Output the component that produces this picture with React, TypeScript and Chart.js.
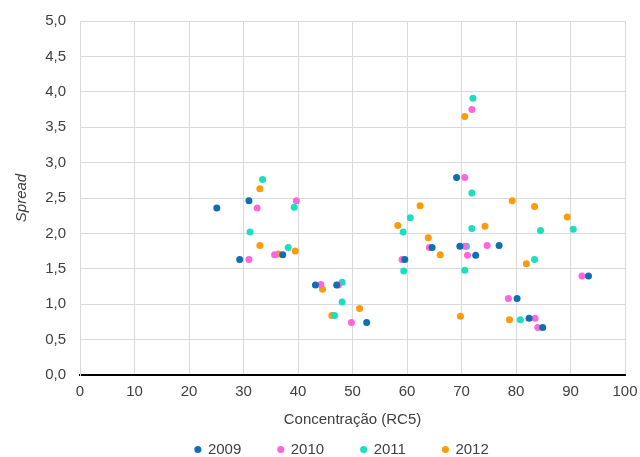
import React, { useEffect, useRef } from "react";
import { Chart, registerables } from "chart.js";

Chart.register(...registerables);

const chartTitle = "Mercado Europeu — Spread";
const xAxisTitle = "Concentração (RC5)";
const yAxisTitle = "Spread";
const seriesNames = ["2009", "2010", "2011", "2012"];
const seriesColors = ["#0F6FB0", "#FF66DD", "#1BDDC0", "#FF9A0A"];

const x2009 = [25.1, 29.3, 31.0, 37.2, 43.2, 47.1, 52.6, 59.6, 64.6, 69.1, 69.7, 72.6, 76.9, 80.2, 82.4, 84.9, 93.3];
const y2009 = [2.36, 1.63, 2.46, 1.70, 1.27, 1.27, 0.74, 1.63, 1.80, 2.79, 1.82, 1.69, 1.83, 1.08, 0.80, 0.67, 1.40];

const x2010 = [31.0, 32.5, 35.7, 39.7, 44.2, 47.4, 49.8, 59.1, 64.1, 70.6, 70.6, 71.1, 71.9, 74.7, 78.6, 83.5, 84.0, 92.1];
const y2010 = [1.63, 2.36, 1.70, 2.46, 1.28, 1.27, 0.74, 1.63, 1.80, 2.79, 1.82, 1.69, 3.75, 1.83, 1.08, 0.80, 0.67, 1.40];

const x2011 = [31.2, 33.5, 38.2, 39.3, 46.7, 48.1, 48.1, 59.3, 59.4, 60.6, 70.6, 70.9, 71.9, 71.9, 72.1, 80.8, 83.4, 84.5, 90.5];
const y2011 = [2.02, 2.76, 1.80, 2.37, 0.84, 1.31, 1.03, 2.02, 1.47, 2.22, 1.48, 1.82, 2.57, 2.07, 3.91, 0.78, 1.63, 2.04, 2.06];

const x2012 = [33.0, 33.0, 36.4, 39.5, 44.5, 46.2, 51.3, 58.3, 62.4, 63.9, 66.1, 69.8, 70.6, 74.3, 78.8, 79.3, 81.9, 83.4, 89.4];
const y2012 = [2.63, 1.83, 1.71, 1.75, 1.21, 0.84, 0.94, 2.11, 2.39, 1.94, 1.70, 0.83, 3.65, 2.10, 0.78, 2.46, 1.57, 2.38, 2.23];

const xs = [x2009, x2010, x2011, x2012];
const ys = [y2009, y2010, y2011, y2012];

const FONT = "'Liberation Sans', Arial, sans-serif";
const TEXT = "#404040";
const GRID = "#D9D9D9";

export default function App() {
  const ref = useRef<HTMLCanvasElement | null>(null);

  useEffect(() => {
    if (!ref.current) return;
    Chart.defaults.font.family = FONT;
    const datasets = seriesNames.map((name, s) => ({
      label: name,
      data: xs[s].map((x, i) => ({ x, y: ys[s][i] })),
      backgroundColor: seriesColors[s],
      borderColor: seriesColors[s],
      pointRadius: 3.5,
      pointBorderWidth: 0,
      pointHoverRadius: 3.5,
      showLine: false,
    }));
    const chart = new Chart(ref.current, {
      type: "scatter",
      data: { datasets },
      options: {
        animation: false,
        responsive: true,
        maintainAspectRatio: false,
        layout: { padding: { left: 0, right: 15, top: 0, bottom: 0 } },
        plugins: {
          tooltip: { enabled: false },
          title: {
            display: true,
            text: chartTitle,
            color: TEXT,
            font: { size: 15, weight: "bold", family: FONT },
            padding: { top: 0, bottom: 19 },
          },
          legend: {
            position: "bottom",
            fullSize: false,
            labels: {
              usePointStyle: true,
              boxWidth: 5,
              boxHeight: 5,
              padding: 12,
              color: TEXT,
              font: { size: 15, family: FONT },
              generateLabels: (c: any) => {
                const items = (Chart.defaults.plugins.legend.labels as any).generateLabels(c);
                return items.map((it: any, i: number) => ({
                  ...it,
                  text: it.text + (i < items.length - 1 ? "      " : "     "),
                  pointStyle: "circle",
                  lineWidth: 0,
                }));
              },
            },
          },
        },
        scales: {
          x: {
            type: "linear",
            min: 0,
            max: 100,
            ticks: { stepSize: 10, color: TEXT, font: { size: 15, family: FONT }, padding: 8 },
            grid: { color: GRID, lineWidth: 1, drawTicks: false },
            border: { color: "#000000", width: 2 },
            title: {
              display: true,
              text: xAxisTitle,
              color: TEXT,
              font: { size: 15, family: FONT },
              padding: { top: 2, bottom: 1 },
            },
            afterFit: (scale: any) => {
              scale.paddingRight = 0;
              scale.paddingLeft = 0;
            },
          },
          y: {
            type: "linear",
            min: 0,
            max: 5,
            ticks: {
              stepSize: 0.5,
              color: TEXT,
              font: { size: 15, family: FONT },
              padding: 14,
              callback: (v: any) => Number(v).toFixed(1).replace(".", ","),
            },
            grid: { color: GRID, lineWidth: 1, drawTicks: false },
            border: { color: GRID, width: 1 },
            title: {
              display: true,
              text: yAxisTitle,
              color: TEXT,
              font: { size: 15, style: "italic", family: FONT },
              padding: { top: 13, bottom: 0 },
            },
            afterFit: (scale: any) => {
              scale.width = 80;
            },
          },
        },
      },
    });
    return () => chart.destroy();
  }, []);

  return (
    <div style={{ position: "fixed", left: 0, top: 0, width: 640, height: 457, overflow: "hidden", background: "#fff" }}>
      <div style={{ position: "absolute", left: 0, top: -16, width: 640, height: 483 }}>
        <canvas ref={ref} />
      </div>
    </div>
  );
}
